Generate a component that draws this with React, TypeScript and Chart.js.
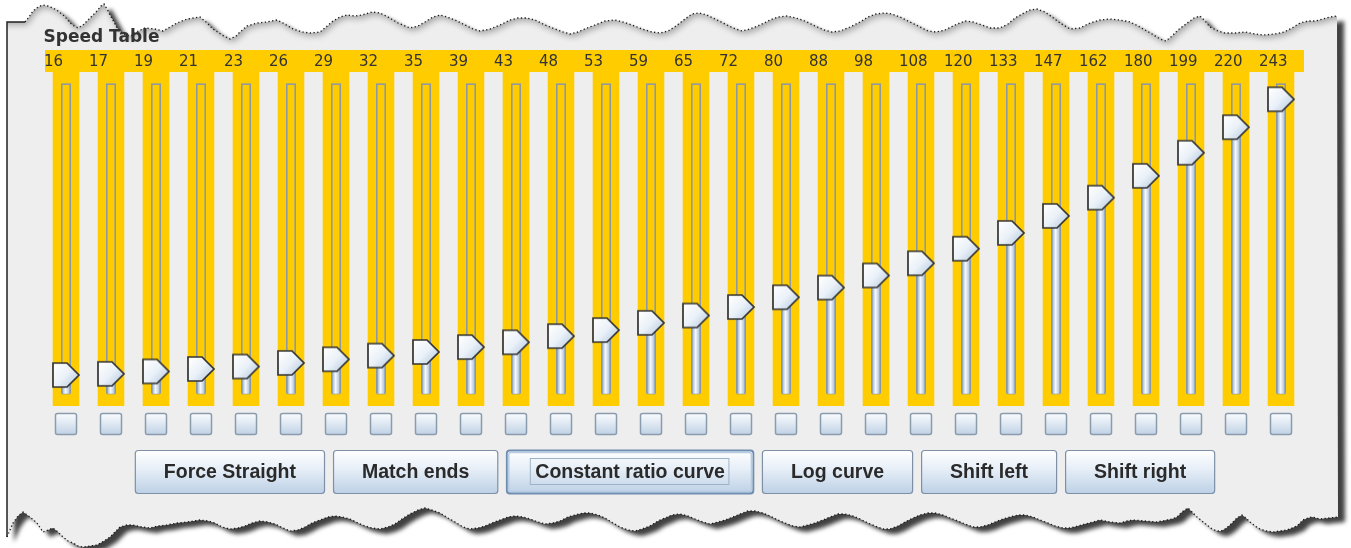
import { useEffect, useRef } from 'react';
import { Chart, registerables } from 'chart.js';

Chart.register(...registerables);

// ---- data ----
const speedValues = [16, 17, 19, 21, 23, 26, 29, 32, 35, 39, 43, 48, 53, 59, 65, 72, 80, 88, 98, 108, 120, 133, 147, 162, 180, 199, 220, 243];
const stepLabels = speedValues.map(String);
const buttonLabels = ['Force Straight', 'Match ends', 'Constant ratio curve', 'Log curve', 'Shift left', 'Shift right'];
const focusedButton = 'Constant ratio curve';
const panelTitle = 'Speed Table';
const sliderMin = 0;
const sliderMax = 255;

// ---- decoration (torn paper edges) ----
const TOP_EDGE: number[][] = [[25, 22], [29, 17], [33, 11], [38, 7], [43, 5], [48, 6], [53, 8], [58, 11], [63, 15], [67, 19], [70, 23], [74, 26], [78, 28], [83, 25], [88, 20], [93, 15], [97, 11], [101, 6], [104, 4], [107, 9], [110, 15], [114, 22], [117, 28], [121, 32], [126, 35], [131, 36], [136, 32], [145, 28], [155, 29], [163, 31], [170, 27], [177, 23], [187, 19], [200, 17], [206, 22], [213, 29], [222, 35], [230, 39], [236, 36], [240, 32], [247, 26], [257, 23], [267, 22], [277, 20], [283, 23], [293, 29], [302, 32], [310, 33], [320, 32], [326, 27], [333, 21], [340, 17], [347, 15], [355, 16], [362, 15], [372, 12], [380, 13], [388, 17], [398, 23], [410, 28], [418, 26], [425, 22], [433, 17], [440, 15], [447, 17], [455, 20], [465, 25], [473, 29], [480, 31], [490, 29], [500, 25], [510, 20], [518, 18], [527, 18], [535, 20], [545, 25], [555, 29], [563, 32], [570, 34], [578, 32], [587, 28], [595, 25], [605, 21], [615, 20], [623, 22], [632, 25], [642, 29], [652, 32], [660, 33], [668, 31], [676, 26], [685, 19], [692, 14], [699, 13], [707, 15], [715, 19], [725, 24], [733, 28], [742, 31], [750, 29], [760, 25], [770, 20], [778, 17], [787, 16], [796, 18], [805, 21], [815, 26], [824, 30], [832, 32], [840, 31], [850, 27], [860, 22], [868, 17], [876, 14], [884, 13], [892, 14], [900, 17], [910, 22], [920, 27], [928, 31], [936, 32], [945, 30], [955, 25], [965, 21], [973, 22], [982, 25], [990, 28], [1000, 28], [1008, 24], [1015, 18], [1022, 14], [1030, 10], [1037, 9], [1045, 12], [1052, 17], [1060, 23], [1070, 29], [1080, 28], [1090, 23], [1100, 20], [1110, 19], [1120, 20], [1130, 22], [1138, 26], [1145, 30], [1152, 34], [1160, 39], [1166, 41], [1172, 36], [1178, 30], [1186, 24], [1194, 18], [1200, 16], [1205, 21], [1210, 27], [1218, 31], [1225, 33], [1235, 33], [1245, 32], [1255, 34], [1263, 35], [1275, 34], [1284, 32], [1292, 28], [1300, 23], [1308, 21], [1315, 21], [1323, 19], [1330, 17], [1337, 16]];
const BOTTOM_EDGE: number[][] = [[7, 537], [10, 530], [13, 523], [18, 516], [23, 512], [30, 517], [37, 523], [43, 532], [48, 530], [53, 528], [58, 532], [63, 537], [68, 541], [73, 543], [78, 546], [83, 547], [90, 546], [97, 545], [104, 541], [110, 537], [115, 532], [120, 527], [127, 525], [133, 525], [142, 527], [150, 528], [158, 526], [167, 525], [177, 523], [187, 522], [200, 520], [208, 521], [215, 523], [222, 527], [230, 529], [238, 528], [245, 526], [252, 523], [260, 521], [268, 522], [275, 524], [283, 528], [290, 531], [298, 530], [305, 527], [312, 523], [320, 520], [328, 517], [335, 516], [342, 517], [350, 519], [358, 523], [365, 526], [372, 528], [380, 529], [388, 527], [395, 524], [402, 519], [410, 514], [418, 510], [425, 508], [432, 510], [440, 513], [448, 518], [455, 522], [463, 527], [470, 529], [478, 528], [485, 526], [492, 523], [500, 520], [508, 517], [515, 516], [523, 517], [530, 519], [538, 522], [545, 524], [553, 523], [560, 521], [568, 517], [575, 515], [583, 513], [590, 513], [598, 515], [605, 518], [613, 523], [620, 527], [628, 530], [635, 531], [642, 529], [650, 526], [658, 521], [665, 518], [672, 515], [680, 514], [688, 516], [695, 519], [703, 522], [710, 524], [718, 522], [725, 520], [733, 517], [740, 514], [748, 511], [755, 511], [763, 513], [770, 516], [778, 520], [785, 523], [793, 526], [800, 527], [808, 525], [815, 523], [823, 520], [830, 517], [838, 514], [845, 514], [853, 516], [860, 519], [868, 523], [875, 526], [883, 529], [890, 529], [898, 526], [905, 522], [913, 518], [920, 515], [928, 513], [935, 513], [943, 515], [950, 518], [958, 521], [965, 524], [973, 527], [980, 527], [988, 525], [995, 522], [1003, 519], [1010, 517], [1018, 515], [1025, 515], [1033, 517], [1040, 520], [1048, 523], [1055, 526], [1063, 528], [1070, 528], [1078, 526], [1085, 524], [1093, 522], [1100, 520], [1110, 522], [1120, 523], [1127, 521], [1133, 520], [1145, 521], [1157, 522], [1162, 521], [1167, 520], [1172, 519], [1177, 517], [1182, 512], [1188, 508], [1192, 512], [1197, 517], [1202, 521], [1207, 525], [1212, 529], [1217, 531], [1221, 531], [1225, 529], [1229, 526], [1233, 522], [1237, 518], [1242, 515], [1246, 518], [1250, 522], [1255, 526], [1260, 529], [1266, 531], [1273, 532], [1280, 531], [1287, 530], [1292, 528], [1297, 526], [1300, 523], [1303, 520], [1308, 518], [1312, 517], [1316, 518], [1320, 519], [1329, 518], [1338, 517]];

const YELLOW = '#ffcc00';

function roundRect(ctx: CanvasRenderingContext2D, x: number, y: number, w: number, h: number, r: number) {
  ctx.beginPath();
  ctx.moveTo(x + r, y);
  ctx.lineTo(x + w - r, y);
  ctx.quadraticCurveTo(x + w, y, x + w, y + r);
  ctx.lineTo(x + w, y + h - r);
  ctx.quadraticCurveTo(x + w, y + h, x + w - r, y + h);
  ctx.lineTo(x + r, y + h);
  ctx.quadraticCurveTo(x, y + h, x, y + h - r);
  ctx.lineTo(x, y + r);
  ctx.quadraticCurveTo(x, y, x + r, y);
  ctx.closePath();
}

const panelPlugin = {
  id: 'swingPanel',
  beforeDraw(chart: any) {
    const ctx: CanvasRenderingContext2D = chart.ctx;
    const xs = chart.scales.x;
    const ys = chart.scales.y;
    const area = chart.chartArea;
    ctx.save();
    ctx.fillStyle = '#ffffff';
    ctx.fillRect(0, 0, chart.width, chart.height);

    // panel with drop shadow
    const panel = new Path2D();
    panel.moveTo(7, 22);
    TOP_EDGE.forEach(([x, y]) => panel.lineTo(x, y));
    for (let i = BOTTOM_EDGE.length - 1; i >= 0; i--) panel.lineTo(BOTTOM_EDGE[i][0], BOTTOM_EDGE[i][1]);
    panel.closePath();
    ctx.shadowColor = 'rgba(0,0,0,0.75)';
    ctx.shadowBlur = 4;
    ctx.shadowOffsetX = 7;
    ctx.shadowOffsetY = 5;
    ctx.fillStyle = '#eeeeee';
    ctx.fill(panel);

    // shadow cast by the torn paper above the panel
    ctx.save();
    ctx.clip(panel);
    const above = new Path2D();
    above.moveTo(0, 22);
    above.lineTo(7, 22);
    TOP_EDGE.forEach(([x, y]) => above.lineTo(x, y));
    above.lineTo(1351, 16);
    above.lineTo(1351, -20);
    above.lineTo(0, -20);
    above.closePath();
    ctx.shadowColor = 'rgba(0,0,0,0.3)';
    ctx.shadowBlur = 6;
    ctx.shadowOffsetX = 2;
    ctx.shadowOffsetY = 3;
    ctx.fillStyle = '#ffffff';
    ctx.fill(above);
    ctx.restore();
    ctx.shadowColor = 'transparent';
    ctx.shadowBlur = 0;
    ctx.shadowOffsetX = 0;
    ctx.shadowOffsetY = 0;

    // dotted torn edges
    ctx.strokeStyle = '#1a1a1a';
    ctx.lineWidth = 1.3;
    ctx.setLineDash([1.3, 2.4]);
    ctx.beginPath();
    TOP_EDGE.forEach(([x, y], i) => (i === 0 ? ctx.moveTo(x, y) : ctx.lineTo(x, y)));
    ctx.stroke();
    ctx.beginPath();
    BOTTOM_EDGE.forEach(([x, y], i) => (i === 0 ? ctx.moveTo(x, y) : ctx.lineTo(x, y)));
    ctx.stroke();
    ctx.setLineDash([]);
    ctx.lineWidth = 1.5;
    ctx.strokeStyle = '#202020';
    ctx.beginPath();
    ctx.moveTo(7, 537);
    ctx.lineTo(7, 22);
    ctx.lineTo(25, 22);
    ctx.stroke();

    // yellow label band and columns
    ctx.fillStyle = YELLOW;
    ctx.fillRect(area.left + 1.5, 50, area.right - area.left - 1, 22);
    const top = ys.getPixelForValue(sliderMax);
    const bottom = ys.getPixelForValue(sliderMin);
    stepLabels.forEach((_, i) => {
      const x = xs.getPixelForValue(i);
      ctx.fillStyle = YELLOW;
      ctx.fillRect(x - 13.3, 71, 26.6, 335);
      // slider track
      ctx.strokeStyle = '#8e99a4';
      ctx.lineWidth = 1.6;
      ctx.strokeRect(x - 4.2, top - 0.5, 8.4, bottom - top - 1.5);
      // checkbox
      const g = ctx.createLinearGradient(0, 413, 0, 434);
      g.addColorStop(0, '#fbfdff');
      g.addColorStop(1, '#c2d3e6');
      roundRect(ctx, x - 10.5, 413.5, 21, 21, 2);
      ctx.fillStyle = g;
      ctx.fill();
      ctx.strokeStyle = '#8a9bad';
      ctx.lineWidth = 1.5;
      ctx.stroke();
    });

    // buttons
    ctx.font = 'bold 19.5px "Liberation Sans", Arial, sans-serif';
    const pad = 57;
    const gap = 9;
    const widths = buttonLabels.map((t) => ctx.measureText(t).width + pad);
    const total = widths.reduce((a, b) => a + b, 0) + gap * (buttonLabels.length - 1);
    let bx = 674.5 - total / 2;
    const by = 450;
    const bh = 43;
    buttonLabels.forEach((label, i) => {
      const w = widths[i];
      const g = ctx.createLinearGradient(0, by, 0, by + bh);
      g.addColorStop(0, '#ffffff');
      g.addColorStop(0.45, '#e6eef7');
      g.addColorStop(1, '#bed1e6');
      roundRect(ctx, bx + 0.5, by + 0.5, w, bh, 3);
      ctx.fillStyle = g;
      ctx.fill();
      if (label === focusedButton) {
        ctx.strokeStyle = '#6f8db0';
        ctx.lineWidth = 1.8;
        ctx.stroke();
        roundRect(ctx, bx + 2.5, by + 2.5, w - 4, bh - 4, 2);
        ctx.strokeStyle = '#b7cce3';
        ctx.lineWidth = 1.5;
        ctx.stroke();
        const tw = ctx.measureText(label).width;
        ctx.strokeStyle = '#9fb3c8';
        ctx.lineWidth = 1;
        ctx.strokeRect(bx + w / 2 - tw / 2 - 4.5, by + 8.5, tw + 9, bh - 17);
      } else {
        ctx.strokeStyle = '#7d90a6';
        ctx.lineWidth = 1.2;
        ctx.stroke();
      }
      ctx.fillStyle = '#2a2a2a';
      ctx.textAlign = 'center';
      ctx.textBaseline = 'middle';
      ctx.fillText(label, bx + 0.5 + w / 2, by + bh / 2 + 1.5);
      bx += w + gap;
    });
    ctx.restore();
  },
};

function makeThumb(): HTMLCanvasElement {
  const c = document.createElement('canvas');
  c.width = 30;
  c.height = 28;
  const g = c.getContext('2d')!;
  const cx = 15;
  const cy = 14;
  g.beginPath();
  g.moveTo(cx - 13, cy - 12);
  g.lineTo(cx + 1, cy - 12);
  g.lineTo(cx + 13, cy);
  g.lineTo(cx + 1, cy + 12);
  g.lineTo(cx - 13, cy + 12);
  g.closePath();
  const grad = g.createLinearGradient(cx - 12, cy - 11, cx + 12, cy + 11);
  grad.addColorStop(0, '#ffffff');
  grad.addColorStop(0.5, '#eaf1f8');
  grad.addColorStop(1, '#b3c8df');
  g.fillStyle = grad;
  g.fill();
  g.lineWidth = 1.7;
  g.lineJoin = 'miter';
  g.strokeStyle = '#333333';
  g.stroke();
  return c;
}

export default function App() {
  const ref = useRef<HTMLCanvasElement | null>(null);
  useEffect(() => {
    if (!ref.current) return;
    const thumb = makeThumb();
    const chart = new Chart(ref.current, {
      type: 'bar',
      data: {
        labels: stepLabels,
        datasets: [
          {
            type: 'line',
            label: 'Thumb',
            data: speedValues,
            showLine: false,
            pointStyle: thumb as any,
            pointRadius: 12,
            order: 0,
            clip: false as any,
          } as any,
          {
            type: 'bar',
            label: 'Speed',
            data: speedValues,
            barThickness: 8.4,
            borderWidth: 1,
            borderColor: '#7f93a8',
            borderSkipped: false,
            order: 1,
            backgroundColor: (c: any) => {
              const xs = c.chart.scales?.x;
              if (!xs || c.dataIndex === undefined) return '#d6e2ee';
              const x = xs.getPixelForValue(c.dataIndex);
              if (!isFinite(x)) return '#d6e2ee';
              const g = c.chart.ctx.createLinearGradient(x - 4.2, 0, x + 4.2, 0);
              g.addColorStop(0, '#93a9c1');
              g.addColorStop(0.45, '#f6f9fc');
              g.addColorStop(1, '#a3b7cc');
              return g;
            },
          } as any,
        ],
      },
      options: {
        animation: false,
        responsive: false,
        events: [],
        layout: { padding: { top: 27.8, left: 43.5, right: 47.5, bottom: 153.5 } },
        plugins: {
          legend: { display: false },
          tooltip: { enabled: false },
          title: {
            display: true,
            text: panelTitle,
            align: 'start',
            color: '#333333',
            font: { family: '"DejaVu Sans", sans-serif', size: 17, weight: 'bold' },
            padding: { top: 0, bottom: -9.5 },
          },
        },
        scales: {
          x: {
            type: 'category',
            position: 'top',
            offset: true,
            grid: { display: false, drawTicks: false },
            border: { display: false },
            ticks: {
              autoSkip: false,
              maxRotation: 0,
              minRotation: 0,
              align: 'start',
              labelOffset: -22,
              padding: 14,
              color: '#333333',
              font: { family: '"DejaVu Sans", sans-serif', size: 15 },
            },
          },
          y: { display: false, min: sliderMin, max: sliderMax },
        },
      } as any,
      plugins: [panelPlugin],
    });
    return () => chart.destroy();
  }, []);
  return (
    <div style={{ position: 'fixed', left: 0, top: 0, width: 1351, height: 548 }}>
      <canvas ref={ref} width={1351} height={548} style={{ display: 'block' }} />
    </div>
  );
}
